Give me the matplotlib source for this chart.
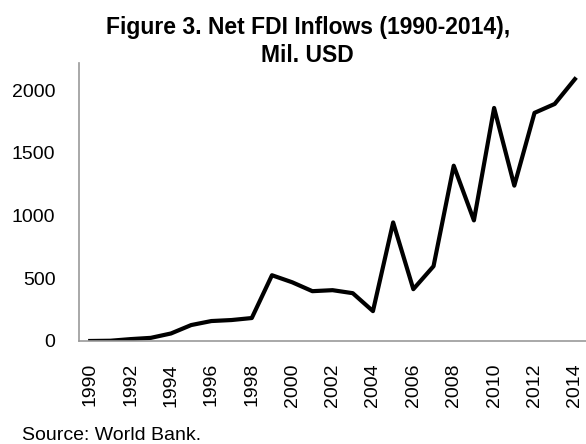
import matplotlib.pyplot as plt

plt.rcParams['font.family'] = ['Liberation Sans', 'DejaVu Sans']

# Net FDI inflows, million USD
years = list(range(1990, 2015))
fdi = [0, 2, 15, 25, 60, 127, 159, 167, 183, 524,
       468, 397, 405, 381, 238, 945, 413, 596, 1397, 961,
       1857, 1238, 1818, 1889, 2087]

fig = plt.figure(figsize=(5.86, 4.44), dpi=100)
ax = fig.add_axes([0.135, 0.232, 0.865, 0.626])

ax.plot(years, fdi, color='black', linewidth=3)

ax.set_xlim(1989.45, 2014.55)
ax.set_ylim(0, 2215)
ax.set_xticks(range(1990, 2015, 2))
ax.set_yticks([0, 500, 1000, 1500, 2000])
ax.tick_params(axis='x', labelrotation=90, length=0, labelsize=14, pad=16)
ax.tick_params(axis='y', length=0, labelsize=14, pad=17)

for side in ['top', 'right']:
    ax.spines[side].set_visible(False)
for side in ['left', 'bottom']:
    ax.spines[side].set_color('#999999')
    ax.spines[side].set_linewidth(1.2)

fig.text(0.525, 0.965, "Figure 3. Net FDI Inflows (1990-2014),\nMil. USD",
         ha='center', va='top', fontsize=16.5, fontweight='bold', linespacing=1.3)
fig.text(0.038, 0.0, "Source: World Bank.", ha='left', va='bottom', fontsize=14)

fig.savefig('out.png', dpi=100)
